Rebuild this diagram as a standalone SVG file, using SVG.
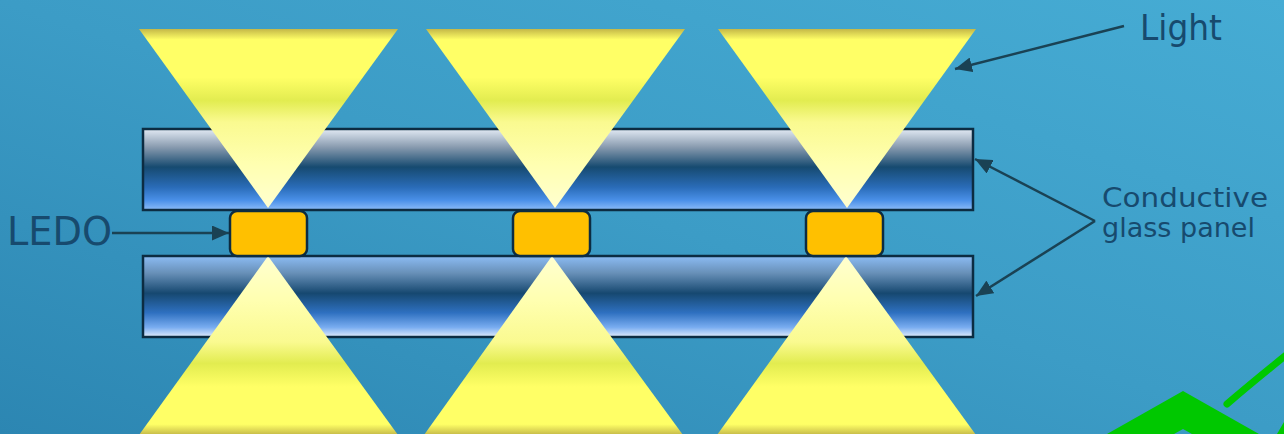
<svg xmlns="http://www.w3.org/2000/svg" width="1284" height="434" viewBox="0 0 1284 434">
<defs>
<linearGradient id="bg" x1="1" y1="0" x2="0" y2="1">
<stop offset="0" stop-color="#46acd4"/>
<stop offset="0.5" stop-color="#3c9cc6"/>
<stop offset="1" stop-color="#2c86b2"/>
</linearGradient>
<linearGradient id="beamDown" x1="0" y1="0" x2="0" y2="1">
<stop offset="0" stop-color="#c4b848"/>
<stop offset="0.06" stop-color="#ffff66"/>
<stop offset="0.27" stop-color="#ffff66"/>
<stop offset="0.4" stop-color="#e2ec50"/>
<stop offset="0.52" stop-color="#fafa90"/>
<stop offset="0.75" stop-color="#ffffb0"/>
<stop offset="1" stop-color="#ffffd0"/>
</linearGradient>
<linearGradient id="beamUp" x1="0" y1="1" x2="0" y2="0">
<stop offset="0" stop-color="#c4b848"/>
<stop offset="0.06" stop-color="#ffff66"/>
<stop offset="0.27" stop-color="#ffff66"/>
<stop offset="0.4" stop-color="#e2ec50"/>
<stop offset="0.52" stop-color="#fafa90"/>
<stop offset="0.75" stop-color="#ffffb0"/>
<stop offset="1" stop-color="#ffffd0"/>
</linearGradient>
<linearGradient id="panelTop" x1="0" y1="0" x2="0" y2="1">
<stop offset="0" stop-color="#e2eaf4"/>
<stop offset="0.22" stop-color="#8a9cb0"/>
<stop offset="0.47" stop-color="#164a70"/>
<stop offset="0.72" stop-color="#2a6cb8"/>
<stop offset="0.88" stop-color="#4a90e8"/>
<stop offset="1" stop-color="#8cbcf8"/>
</linearGradient>
<linearGradient id="panelBot" x1="0" y1="0" x2="0" y2="1">
<stop offset="0" stop-color="#8cbcf4"/>
<stop offset="0.21" stop-color="#6890b8"/>
<stop offset="0.46" stop-color="#164870"/>
<stop offset="0.7" stop-color="#2e70c0"/>
<stop offset="0.88" stop-color="#78acf0"/>
<stop offset="1" stop-color="#e0ecfc"/>
</linearGradient>
<marker id="arr" viewBox="0 0 17 15" refX="17" refY="7.5" markerWidth="17" markerHeight="15" markerUnits="userSpaceOnUse" orient="auto">
<path d="M0,0 L17,7.5 L0,15 Z" fill="#1a4254"/>
</marker>
</defs>
<style>
.panel{stroke:#0c2c42;stroke-width:2.5}
.led{fill:#ffc000;stroke:#0c2c42;stroke-width:2.5}
.conn{fill:none;stroke:#1a4254;stroke-width:2.5;marker-end:url(#arr)}
.lbl{font-family:"DejaVu Sans","Liberation Sans",sans-serif;fill:#174a6e}
.green{fill:#00c800}
</style>
<rect x="0" y="0" width="1284" height="434" fill="url(#bg)"/>

<g id="panel-top"><rect class="panel" x="143" y="129" width="830" height="81" fill="url(#panelTop)"/></g>
<g id="panel-bottom"><rect class="panel" x="143" y="256" width="830" height="81" fill="url(#panelBot)"/></g>

<g id="light-top-1"><polygon points="139,29 398,29 268,208" fill="url(#beamDown)"/></g>
<g id="light-top-2"><polygon points="426,29 685,29 555,208" fill="url(#beamDown)"/></g>
<g id="light-top-3"><polygon points="718,29 976,29 847,208" fill="url(#beamDown)"/></g>
<g id="light-bottom-1"><polygon points="268,256 398,435 139,435" fill="url(#beamUp)"/></g>
<g id="light-bottom-2"><polygon points="552,256 683,435 424,435" fill="url(#beamUp)"/></g>
<g id="light-bottom-3"><polygon points="846,256 976,435 717,435" fill="url(#beamUp)"/></g>

<g id="led-1"><rect class="led" x="230" y="211" width="77" height="45" rx="7"/></g>
<g id="led-2"><rect class="led" x="513" y="211" width="77" height="45" rx="7"/></g>
<g id="led-3"><rect class="led" x="806" y="211" width="77" height="45" rx="7"/></g>

<g id="label-ledo"><text class="lbl" x="7" y="245" font-size="39" textLength="105" lengthAdjust="spacingAndGlyphs">LEDO</text></g>
<g id="label-light"><text class="lbl" x="1140" y="40" font-size="35" textLength="82" lengthAdjust="spacingAndGlyphs">Light</text></g>
<g id="label-glass">
<text class="lbl" x="1102" y="207" font-size="26" textLength="166" lengthAdjust="spacingAndGlyphs">Conductive</text>
<text class="lbl" x="1102" y="237" font-size="26" textLength="153" lengthAdjust="spacingAndGlyphs">glass panel</text>
</g>

<g id="connectors">
<line class="conn" x1="112" y1="233" x2="229" y2="233"/>
<line class="conn" x1="1124" y1="26" x2="955" y2="69"/>
<line class="conn" x1="1095" y1="221" x2="975" y2="159"/>
<line class="conn" x1="1095" y1="221" x2="976" y2="296"/>
</g>

<g id="green-shape">
<polygon class="green" points="1107,434 1183,391 1259,434 1192,434 1183,429 1174,434"/>
<path d="M1227,404 Q1255,380 1290,352" fill="none" stroke="#00c800" stroke-width="7" stroke-linecap="round"/>
<polygon class="green" points="1277,434 1284,422 1284,434"/>
</g>
</svg>
